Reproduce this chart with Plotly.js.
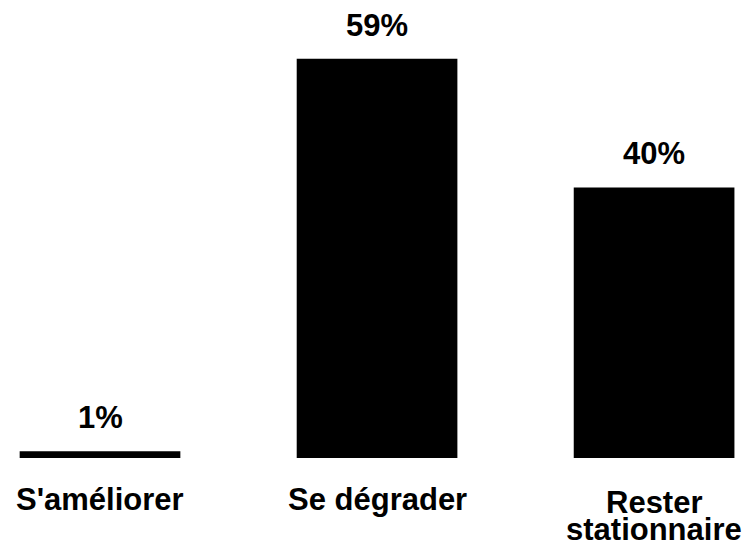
<!DOCTYPE html>
<html>
<head>
<meta charset="utf-8">
<script src="https://cdn.plot.ly/plotly-3.0.1.min.js"></script>
<style>html,body{margin:0;padding:0;background:#fff;}#chart{width:748px;height:547px;}</style>
</head>
<body>
<div id="chart"></div>
<script>
const categories = ["S'améliorer", "Se dégrader", "Rester\nstationnaire"];
const values = [1, 59, 40];
const valueLabels = ["1%", "59%", "40%"];

const FONT = '"Liberation Sans", Arial, sans-serif';
const annotations = [];
values.forEach((v, i) => {
  annotations.push({
    x: i, y: v, xref: 'x', yref: 'y', text: '<b>' + valueLabels[i] + '</b>',
    showarrow: false, yanchor: 'bottom', yshift: 14,
    font: {family: FONT, size: 31, color: '#000'}
  });
});
categories.forEach((c, i) => {
  const lines = c.split('\n');
  const base = lines.length > 1 ? -25 : -22;
  lines.forEach((line, j) => {
    annotations.push({
      x: i, y: 0, xref: 'x', yref: 'paper', text: '<b>' + line + '</b>',
      showarrow: false, yanchor: 'top', yshift: base - 27 * j,
      font: {family: FONT, size: 31, color: '#000'}
    });
  });
});

Plotly.newPlot('chart', [{
  type: 'bar',
  x: categories.map((c, i) => i),
  y: values,
  width: 0.58,
  marker: {color: '#000000'},
  hoverinfo: 'none'
}], {
  width: 748, height: 547,
  margin: {l: 0, r: 0, t: 0, b: 89},
  paper_bgcolor: '#ffffff', plot_bgcolor: '#ffffff',
  showlegend: false,
  xaxis: {range: [-0.361, 2.339], showticklabels: false, showgrid: false, zeroline: false, showline: false, ticks: ''},
  yaxis: {range: [0, 67.7], visible: false, showgrid: false, zeroline: false},
  annotations: annotations
}, {staticPlot: true});
</script>
</body>
</html>
